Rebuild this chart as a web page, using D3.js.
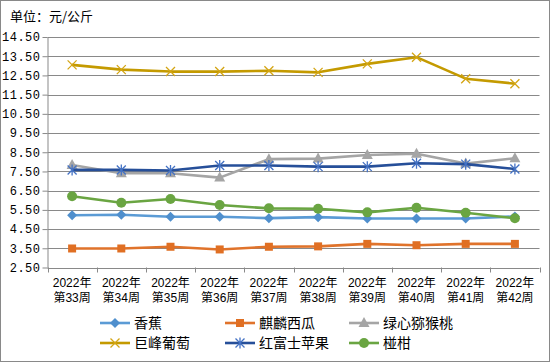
<!DOCTYPE html>
<html>
<head>
<meta charset="utf-8">
<script src="https://cdn.jsdelivr.net/npm/d3@7"></script>
<style>
body{margin:0;padding:0;background:#fff}
svg{display:block}
</style>
</head>
<body>
<svg id="chart" width="550" height="362"></svg>
<script>
var weekYear=["2022年","2022年","2022年","2022年","2022年","2022年","2022年","2022年","2022年","2022年"]
var weekNum=["第33周","第34周","第35周","第36周","第37周","第38周","第39周","第40周","第41周","第42周"]
var yTicks=[2.5,3.5,4.5,5.5,6.5,7.5,8.5,9.5,10.5,11.5,12.5,13.5,14.5]
var seriesNames=["香蕉","麒麟西瓜","绿心猕猴桃","巨峰葡萄","红富士苹果","椪柑"]
var banana=[5.22,5.25,5.14,5.14,5.07,5.12,5.05,5.05,5.05,5.16]
var watermelon=[3.49,3.49,3.58,3.44,3.58,3.60,3.73,3.66,3.73,3.73]
var kiwi=[7.84,7.41,7.41,7.18,8.14,8.17,8.36,8.42,7.91,8.19]
var grapes=[13.05,12.80,12.70,12.70,12.74,12.66,13.10,13.45,12.33,12.07]
var apple=[7.58,7.58,7.55,7.81,7.81,7.75,7.75,7.93,7.88,7.63]
var citrus=[6.21,5.87,6.07,5.75,5.58,5.56,5.37,5.61,5.35,5.06]

var seriesData=[banana,watermelon,kiwi,grapes,apple,citrus]
var lineColors=["#5b9bd5","#e0732b","#a5a5a5","#c49a00","#264f99","#6aa542"]
var markColors=["#4f8fcd","#e06f23","#a5a5a5","#d4a514","#4472c4","#6aa542"]
var markTypes=["diamond","square","triangle","x","star","circle"]

var svg=d3.select("#chart")
var W=550,H=362
var plotLeft=47.5,plotRight=539.5,plotTop=37,plotBottom=267.5

svg.append("rect").attr("x",0.5).attr("y",0.5).attr("width",W-1).attr("height",H-1)
  .attr("fill","#fff").attr("stroke","#898989")

svg.append("text").attr("x",10).attr("y",21)
  .attr("font-family","'Noto Sans CJK SC',sans-serif").attr("font-size","13px")
  .attr("fill","#000").text("单位：元/公斤")

var xScale=d3.scaleBand().domain(d3.range(weekNum.length)).range([plotLeft,plotRight])
var yScale=d3.scaleLinear().domain([2.5,14.5]).range([plotBottom,plotTop])

//---gridlines---
svg.append("g").selectAll("line").data(yTicks.filter(function(d){return d>2.5}))
  .enter().append("line")
  .attr("x1",plotLeft).attr("x2",plotRight)
  .attr("y1",function(d){return Math.round(yScale(d))+0.5})
  .attr("y2",function(d){return Math.round(yScale(d))+0.5})
  .attr("stroke","#898989").attr("stroke-width",1)

//---y axis---
var yAxis=svg.append("g").attr("transform","translate("+plotLeft+",0)")
  .call(d3.axisLeft(yScale).tickValues(yTicks).tickFormat(function(d){return d.toFixed(2)}).tickSize(5).tickSizeOuter(0))
yAxis.select(".domain").attr("stroke","#898989")
yAxis.selectAll(".tick line").attr("stroke","#898989")
yAxis.selectAll("text").attr("font-family","'Liberation Mono',monospace").attr("font-size","12px")
  .attr("fill","#000").attr("x",-7).attr("letter-spacing","0.5px")

//---x axis---
var xAxisG=svg.append("g")
xAxisG.append("line").attr("x1",plotLeft).attr("x2",plotRight)
  .attr("y1",Math.round(plotBottom)+0.5).attr("y2",Math.round(plotBottom)+0.5).attr("stroke","#898989")
var bounds=d3.range(weekNum.length+1).map(function(i){return i<weekNum.length?xScale(i):xScale(i-1)+xScale.bandwidth()})
xAxisG.selectAll(".xt").data(bounds).enter().append("line")
  .attr("x1",function(d){return Math.round(d)+0.5}).attr("x2",function(d){return Math.round(d)+0.5})
  .attr("y1",plotBottom).attr("y2",plotBottom+5).attr("stroke","#898989")

function xLabelRow(labels,y){
  xAxisG.append("g").selectAll("text").data(labels).enter().append("text")
    .attr("text-anchor","middle")
    .attr("font-family","'Liberation Sans','Noto Sans CJK SC',sans-serif").attr("font-size","12px").attr("fill","#000")
    .attr("x",function(d,i){return xScale(i)+xScale.bandwidth()/2})
    .attr("y",y).text(function(d){return d})
}
xLabelRow(weekYear,287)
xLabelRow(weekNum,302)

function drawMarker(g,type,x,y,color){
  if(type=="diamond"){
    g.append("path").attr("d","M"+x+","+(y-5)+"L"+(x+5)+","+y+"L"+x+","+(y+5)+"L"+(x-5)+","+y+"Z").attr("fill",color)
  }else if(type=="square"){
    g.append("rect").attr("x",x-4).attr("y",y-4).attr("width",8).attr("height",8).attr("fill",color)
  }else if(type=="triangle"){
    g.append("path").attr("d","M"+x+","+(y-6)+"L"+(x+5.5)+","+(y+4)+"L"+(x-5.5)+","+(y+4)+"Z").attr("fill",color)
  }else if(type=="x"){
    g.append("path").attr("d","M"+(x-4.5)+","+(y-4.5)+"L"+(x+4.5)+","+(y+4.5)+"M"+(x+4.5)+","+(y-4.5)+"L"+(x-4.5)+","+(y+4.5))
      .attr("stroke",color).attr("stroke-width",1.3).attr("fill","none")
  }else if(type=="star"){
    g.append("path").attr("d","M"+(x-4.5)+","+(y-4.5)+"L"+(x+4.5)+","+(y+4.5)+"M"+(x+4.5)+","+(y-4.5)+"L"+(x-4.5)+","+(y+4.5)+"M"+x+","+(y-5.5)+"L"+x+","+(y+5.5))
      .attr("stroke",color).attr("stroke-width",1.3).attr("fill","none")
  }else{
    g.append("circle").attr("cx",x).attr("cy",y).attr("r",5).attr("fill",color)
  }
}

var line=d3.line()
  .x(function(d,i){return xScale(i)+xScale.bandwidth()/2})
  .y(function(d){return yScale(d)})

//---draw order so kiwi/apple overlap like reference---
var order=[0,1,5,2,3,4]
order.forEach(function(s){
  var g=svg.append("g")
  g.append("path").datum(seriesData[s]).attr("d",line)
    .attr("fill","none").attr("stroke",lineColors[s]).attr("stroke-width",2.6)
    .attr("stroke-linejoin","round")
  seriesData[s].forEach(function(v,i){
    drawMarker(g,markTypes[s],xScale(i)+xScale.bandwidth()/2,yScale(v),markColors[s])
  })
})

//---legend---
var legX=[100,225,349],legY=[323,343]
seriesNames.forEach(function(name,s){
  var lx=legX[s%3],ly=legY[Math.floor(s/3)]
  var g=svg.append("g")
  g.append("line").attr("x1",lx).attr("x2",lx+30).attr("y1",ly).attr("y2",ly)
    .attr("stroke",lineColors[s]).attr("stroke-width",2.6)
  drawMarker(g,markTypes[s],lx+15,ly,markColors[s])
  g.append("text").attr("x",lx+34).attr("y",ly+5)
    .attr("font-family","'Noto Sans CJK SC',sans-serif").attr("font-size","14px").attr("fill","#000")
    .text(name)
})
</script>
</body>
</html>
